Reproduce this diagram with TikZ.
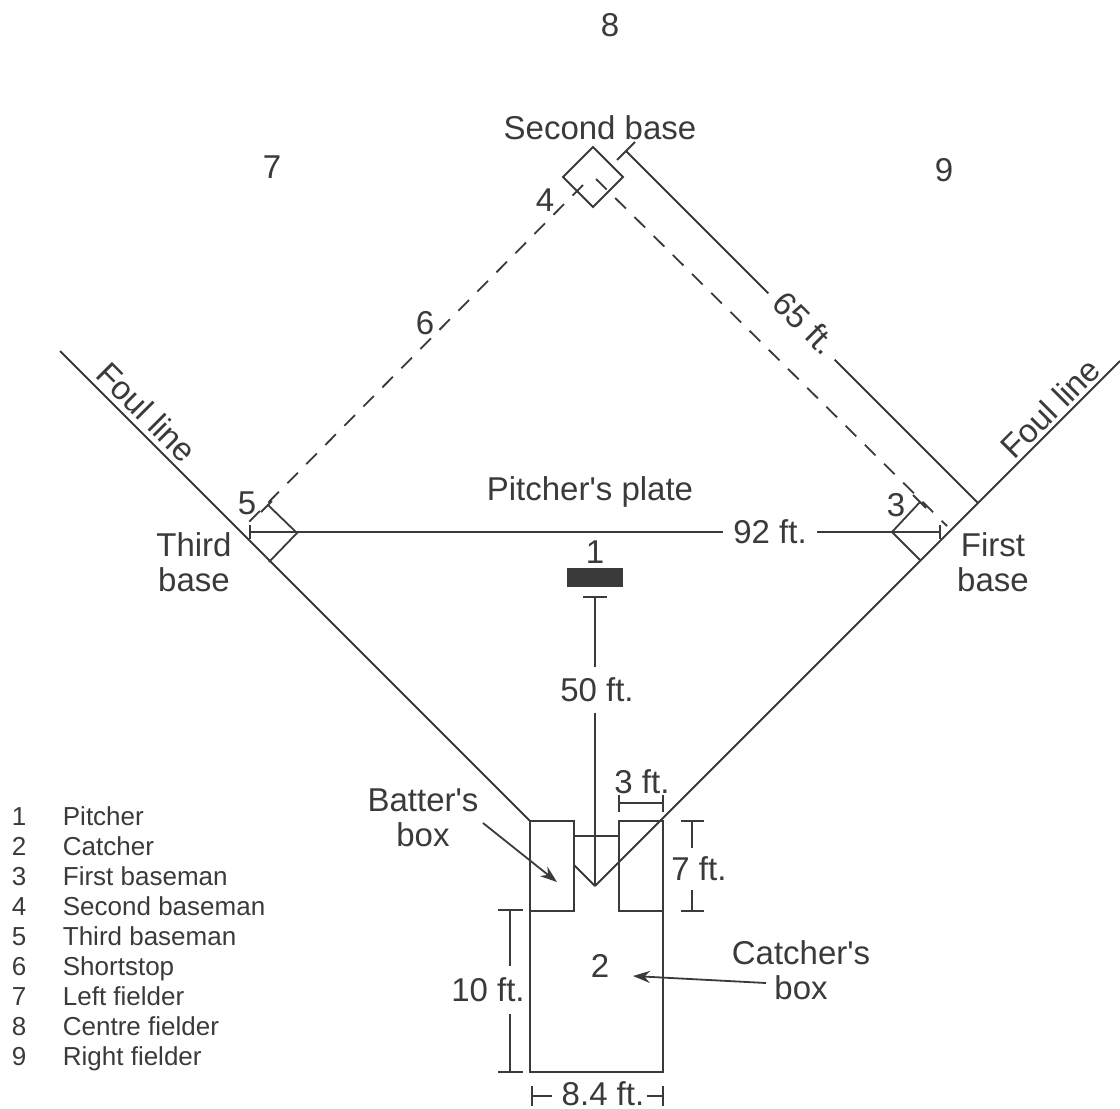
\documentclass[tikz,border=0pt]{standalone}
\usepackage{fontspec}
\setmainfont{Liberation Sans}
\usetikzlibrary{arrows.meta}
\definecolor{ink}{RGB}{58,58,58}
\newcommand{\apos}{\textquotesingle}
\begin{document}
\begin{tikzpicture}[x=1pt,y=-1pt,line width=1.8pt,color=ink,
  lbl/.style={font=\fontsize{33}{35}\selectfont,text=ink,inner sep=0pt,align=center},
  leg/.style={font=\fontsize{26}{30}\selectfont,text=ink,inner sep=0pt},
  dimlbl/.style={lbl,fill=white,inner xsep=10pt,inner ysep=11pt},
  dashline/.style={dash pattern=on 15pt off 12pt},
  arr/.style={-{Stealth[length=17pt,width=12pt]}}]
\useasboundingbox (0,0) rectangle (1120,1109);

% --- foul lines and home plate
\coordinate (H) at (595,886);
\coordinate (LF) at (60,351);
\coordinate (RF) at (1120,361);
\coordinate (BL) at (530,821);
\draw (BL) -- (LF);
\draw (H) -- (RF);
\draw (574,865) -- (H);
\draw (574,836) -- (619,836);

% --- batter's and catcher's boxes
\draw (530,821) rectangle (574,911);
\draw (619,821) rectangle (663,911);
\draw (530,911) -- (530,1072) -- (663,1072) -- (663,911);

% --- second base
\draw (593,147) -- (623,177) -- (593,207) -- (563,177) -- cycle;

% --- dashed lines to bases
\draw[dashline] (583,185) -- (243,528);
\draw[dashline] (596,179) -- (947,526);
\draw (261,512) -- (272,501);
\draw (913,495) -- (926,508);

% --- third and first base
\draw (268,505) -- (297,533) -- (269,562);
\draw (920,502) -- (892,532) -- (920,560);

% --- 92 ft
\draw (250,532) -- (940,532);
\draw (250,525) -- (250,539);
\draw (940,525) -- (940,539);
\node[dimlbl] (d92) at (770,532) {92 ft.};

% --- 65 ft
\draw (626,151) -- (978,503);
\draw (617,160) -- (635,142);
\node[dimlbl,rotate=-45,inner ysep=2pt] (d65) at (805,323) {65 ft.};

% --- pitcher
\node[lbl] (p1) at (595,552) {1};
\fill (567,568) rectangle (623,587);
\draw (583,597) -- (607,597);
\draw (595,597) -- (H);
\node[dimlbl] (d50) at (597,690) {50 ft.};

% --- 3 ft
\draw (619,803) -- (663,803);
\draw (619,795) -- (619,812);
\draw (663,795) -- (663,812);
\node[lbl] (d3) at (642,782) {3 ft.};

% --- 7 ft
\draw (692,821) -- (692,911);
\draw (681,821) -- (704,821);
\draw (681,911) -- (704,911);
\node[dimlbl,inner xsep=1pt,inner ysep=9pt] (d7) at (699,869) {7 ft.};

% --- 10 ft
\draw (510,910) -- (510,1072);
\draw (498,910) -- (523,910);
\draw (498,1072) -- (523,1072);
\node[dimlbl,inner xsep=1pt,inner ysep=12pt] (d10) at (488,990) {10 ft.};

% --- 8.4 ft
\draw (532,1086) -- (532,1106);
\draw (663,1086) -- (663,1106);
\draw (532,1096) -- (552,1096);
\draw (647,1096) -- (663,1096);
\node[lbl] (d84) at (603,1094) {8.4 ft.};

% --- labels
\node[lbl] (sb) at (600,128) {Second base};
\node[lbl] (pp) at (590,492) {Pitcher\apos s plate};
\node[lbl] (tb) at (194,562) {Third\\base};
\node[lbl] (fb) at (993,562) {First\\base};
\node[lbl,rotate=-45] (flL) at (147,412) {Foul line};
\node[lbl,rotate=45] (flR) at (1050,408) {Foul line};
\node[lbl] (bb) at (423,818) {Batter\apos s\\box};
\node[lbl] (cb) at (801,970) {Catcher\apos s\\box};
\node[lbl] (c2) at (600,966) {2};
\coordinate (bbtail) at (483,823);
\coordinate (bbtip) at (557,882);
\draw[arr] (bbtail) -- (bbtip);
\coordinate (cbtail) at (766,983);
\coordinate (cbtip) at (633,976);
\draw[arr] (cbtail) -- (cbtip);

% --- player numbers
\node[lbl] (n8) at (610,25) {8};
\node[lbl] (n7) at (272,167) {7};
\node[lbl] (n9) at (944,170) {9};
\node[lbl] (n6) at (425,323) {6};
\node[lbl] (n4) at (545,200) {4};
\node[lbl] (n5) at (247,503) {5};
\node[lbl] (n3) at (896,505) {3};

% --- legend
\foreach \n/\t [count=\i from 0] in {1/Pitcher,2/Catcher,3/First baseman,4/Second baseman,5/Third baseman,6/Shortstop,7/Left fielder,8/Centre fielder,9/Right fielder}{
  \node[leg,anchor=base] (ln\n) at (19,825+30.1*\i) {\n};
  \node[leg,anchor=base west] (lt\n) at (62,825+30.1*\i) {\t};
}
\end{tikzpicture}
\end{document}
